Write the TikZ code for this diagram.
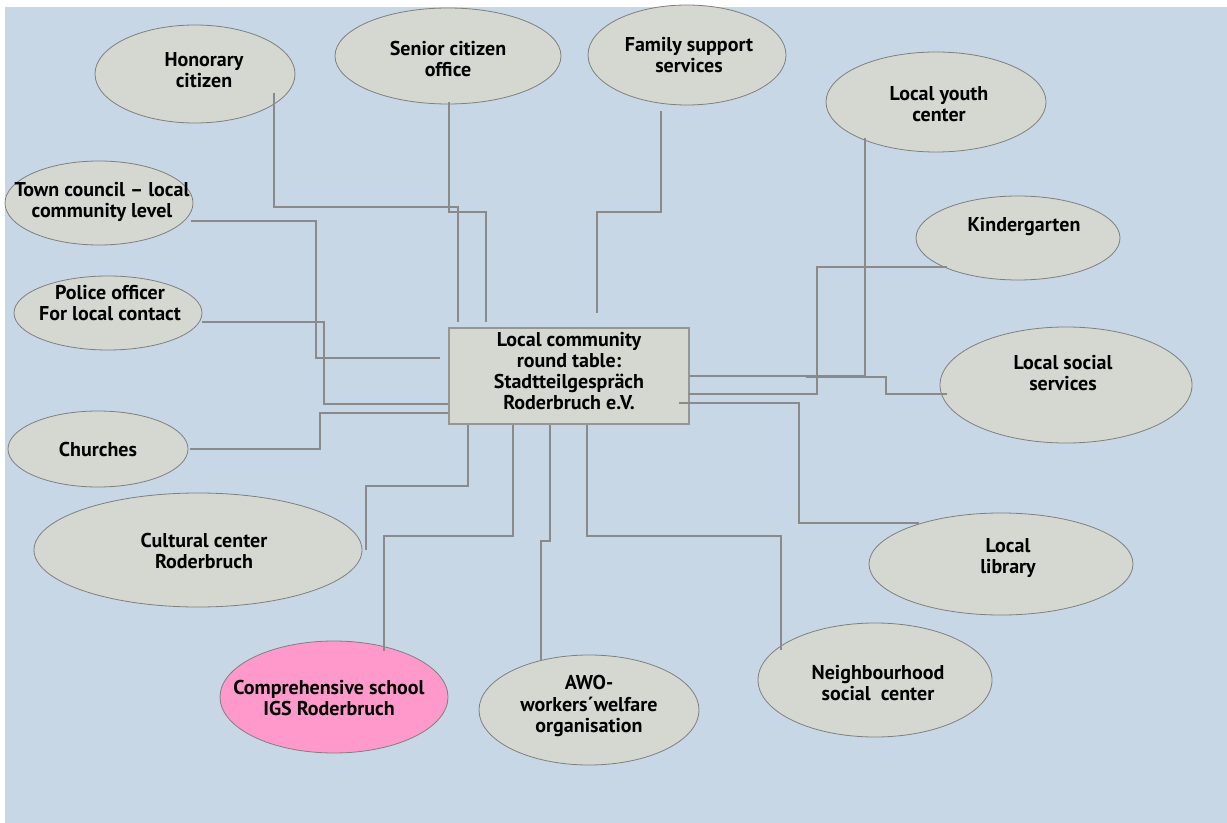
\documentclass[tikz,border=0pt]{standalone}
\usepackage{fontspec}
\setmainfont{PT Sans}
\usetikzlibrary{shapes.geometric}
\definecolor{bgblue}{HTML}{C7D7E6}
\definecolor{ellfill}{HTML}{D5D8D1}
\definecolor{ellline}{HTML}{7F7F7F}
\definecolor{connc}{HTML}{8A8A8A}
\definecolor{pinkfill}{HTML}{FF99CC}
\begin{document}
\begin{tikzpicture}[x=0.75pt,y=-0.75pt,
  ell/.style={ellipse, draw=ellline, fill=ellfill, line width=0.6pt, inner sep=0pt},
  lbl/.style={font=\bfseries\fontsize{15}{15.9}\selectfont, align=center, inner sep=0pt},
  conn/.style={draw=connc, line width=0.9pt}]
\useasboundingbox (0,0) rectangle (1227,823);
\fill[bgblue] (5,7) rectangle (1227,823);
% ellipses
\node[ell, minimum width=150pt, minimum height=73.5pt] (hon) at (195,74) {};
\node[ell, minimum width=169.5pt, minimum height=72pt] (sen) at (448,56) {};
\node[ell, minimum width=148.5pt, minimum height=75pt] (fam) at (687,55) {};
\node[ell, minimum width=165pt, minimum height=75pt] (you) at (936,102) {};
\node[ell, minimum width=141pt, minimum height=63pt] (town) at (99,203) {};
\node[ell, minimum width=153pt, minimum height=63pt] (kin) at (1018,238) {};
\node[ell, minimum width=141pt, minimum height=55.5pt] (pol) at (108,313) {};
\node[ell, minimum width=189pt, minimum height=87pt] (soc) at (1066,385) {};
\node[ell, minimum width=135pt, minimum height=57pt] (chu) at (98,449) {};
\node[ell, minimum width=246pt, minimum height=85.5pt] (cul) at (198,550) {};
\node[ell, minimum width=198pt, minimum height=76.5pt] (lib) at (1001,564) {};
\node[ell, fill=pinkfill, minimum width=171pt, minimum height=84pt] (com) at (334,697) {};
\node[ell, minimum width=165pt, minimum height=82.5pt] (awo) at (589,710) {};
\node[ell, minimum width=175.5pt, minimum height=85.5pt] (nei) at (875,680) {};
% central box
\node[rectangle, draw=connc!90, fill=ellfill, line width=1pt, minimum width=180pt, minimum height=72pt, inner sep=0pt] (box) at (569,376) {};
% connector end points
\coordinate (hon-e) at (274,93);
\coordinate (sen-e) at (449,102);
\coordinate (fam-e) at (661,111);
\coordinate (town-e) at (191,221);
\coordinate (pol-e) at (202,322);
\coordinate (chu-e) at (190,449);
\coordinate (cul-e) at (366,550);
\coordinate (com-e) at (384,651);
\coordinate (awo-e) at (541,660);
\coordinate (nei-e) at (781,650);
\coordinate (you-e) at (865,138);
\coordinate (kin-e) at (947,267);
\coordinate (soc-e) at (947,394);
\coordinate (lib-e) at (919,523);
% connectors
\draw[conn] (hon-e) -- (274,207) -- (458,207) -- (458,322);
\draw[conn] (sen-e) -- (449,212) -- (486,212) -- (486,322);
\draw[conn] (fam-e) -- (661,212) -- (597,212) -- (597,313);
\draw[conn] (town-e) -- (316,221) -- (316,358) -- (440,358);
\draw[conn] (pol-e) -- (324,322) -- (324,404) -- (box.west |- 0,404);
\draw[conn] (chu-e) -- (320,449) -- (320,413) -- (box.west |- 0,413);
\draw[conn] (box.south -| 468,0) -- (468,486) -- (366,486) -- (cul-e);
\draw[conn] (box.south -| 513,0) -- (513,536) -- (384,536) -- (com-e);
\draw[conn] (box.south -| 550,0) -- (550,541) -- (541,541) -- (awo-e);
\draw[conn] (box.south -| 587,0) -- (587,536) -- (781,536) -- (nei-e);
\draw[conn] (you-e) -- (865,376) -- (box.east |- 0,376);
\draw[conn] (806,377) -- (886,377) -- (886,394) -- (soc-e);
\draw[conn] (kin-e) -- (817,267) -- (817,394) -- (688,394);
\draw[conn] (679,403) -- (799,403) -- (799,523) -- (lib-e);
% labels
\node[lbl] (hon-t) at (204,70) {Honorary\\citizen};
\node[lbl] (sen-t) at (448,59) {Senior citizen\\office};
\node[lbl] (fam-t) at (689,55) {Family support\\services};
\node[lbl] (you-t) at (939,104) {Local youth\\center};
\node[lbl] (town-t) at (102,202) {Town council – local\\community level};
\node[lbl] (kin-t) at (1024,227) {Kindergarten};
\node[lbl] (pol-t) at (110,303) {Police officer\\For local contact};
\node[lbl] (soc-t) at (1063,373) {Local social\\services};
\node[lbl] (chu-t) at (98,449) {Churches};
\node[lbl] (cul-t) at (204,551) {Cultural center\\Roderbruch};
\node[lbl] (lib-t) at (1008,558) {Local\\library};
\node[lbl] (com-t) at (329,698) {Comprehensive school\\IGS Roderbruch};
\node[lbl] (awo-t) at (589,706) {AWO-\\workers´welfare\\organisation};
\node[lbl] (nei-t) at (878,683) {Neighbourhood\\social~ center};
\node[lbl] (box-t) at (569,371) {Local community\\round table:\\Stadtteilgespräch\\Roderbruch e.V.};
\end{tikzpicture}
\end{document}
